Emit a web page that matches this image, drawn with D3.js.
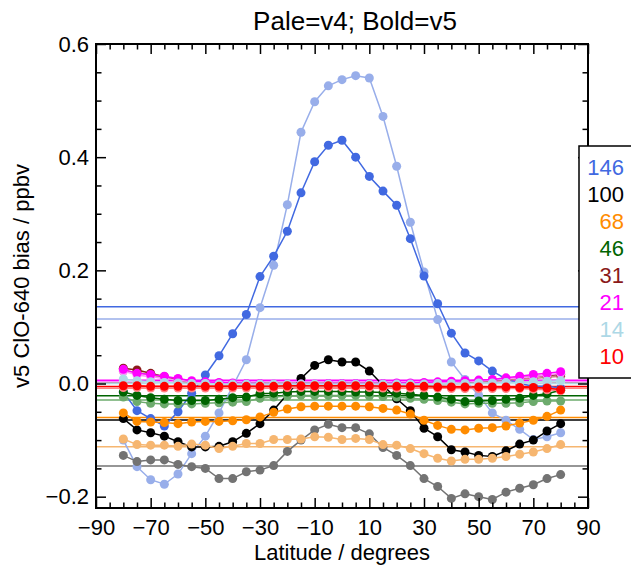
<!DOCTYPE html>
<html>
<head>
<meta charset="utf-8">
<script src="https://cdn.jsdelivr.net/npm/d3@7/dist/d3.min.js"></script>
<style>
  html, body { margin: 0; padding: 0; background: #fff; }
  svg { display: block; font-family: "Liberation Sans", Arial, Helvetica, sans-serif; }
</style>
</head>
<body>
<svg id="chart" width="631" height="569"></svg>
<script>
// Latitude bins (degrees)
const latitudes = [-80, -75, -70, -65, -60, -55, -50, -45, -40, -35, -30, -25, -20, -15, -10, -5, 0,
                   5, 10, 15, 20, 25, 30, 35, 40, 45, 50, 55, 60, 65, 70, 75, 80];

// Pressure levels (hPa) shown in the legend
const levels = ["146", "100", "68", "46", "31", "21", "14", "10"];

// Colours: bold = v5, pale = v4
const boldColors = ["#4169e1", "#000000", "#ff8c00", "#006400", "#8b1a1a", "#ff00ff", "#add8e6", "#ff0000"];
const paleColors = ["#98aeea", "#737373", "#f6b670", "#6dab6d", "#c68484", "#ff8cff", "#d3eaf2", "#ff8484"];

// ClO bias (ppbv), v5
const v5_146 = [-0.015, -0.048, -0.062, -0.075, -0.050, -0.017, 0.015, 0.049, 0.088, 0.122, 0.189, 0.225, 0.269, 0.337, 0.392, 0.421, 0.430,
                0.400, 0.366, 0.340, 0.315, 0.256, 0.190, 0.141, 0.089, 0.054, 0.040, 0.022, 0.008, 0.000, -0.005, -0.005, -0.008];
const v5_100 = [-0.062, -0.082, -0.087, -0.093, -0.103, -0.112, -0.112, -0.111, -0.103, -0.088, -0.071, -0.047, -0.019, 0.009, 0.032, 0.042, 0.038,
                0.038, 0.022, -0.003, -0.027, -0.048, -0.079, -0.094, -0.117, -0.121, -0.127, -0.129, -0.119, -0.107, -0.100, -0.084, -0.071];
const v5_68  = [-0.052, -0.067, -0.068, -0.069, -0.071, -0.068, -0.067, -0.067, -0.066, -0.064, -0.059, -0.051, -0.045, -0.041, -0.040, -0.040, -0.040,
                -0.040, -0.041, -0.044, -0.047, -0.054, -0.065, -0.074, -0.081, -0.082, -0.079, -0.078, -0.075, -0.070, -0.065, -0.058, -0.047];
const v5_46  = [-0.015, -0.021, -0.025, -0.028, -0.030, -0.030, -0.030, -0.028, -0.025, -0.024, -0.018, -0.017, -0.015, -0.014, -0.014, -0.014, -0.014,
                -0.015, -0.015, -0.016, -0.017, -0.019, -0.021, -0.024, -0.028, -0.032, -0.031, -0.030, -0.028, -0.026, -0.021, -0.018, -0.012];
const v5_31  = [0.027, 0.024, 0.018, 0.012, 0.007, 0.003, 0.000, -0.002, -0.003, -0.003, -0.003, -0.003, -0.003, -0.003, -0.003, -0.003, -0.003,
                -0.003, -0.003, -0.003, -0.003, -0.002, -0.002, -0.001, 0.000, 0.002, 0.004, 0.006, 0.008, 0.010, 0.012, 0.014, 0.016];
const v5_21  = [0.025, 0.018, 0.016, 0.013, 0.009, 0.005, 0.003, 0.002, 0.001, 0.000, 0.000, -0.001, -0.001, -0.001, -0.001, 0.000, 0.000,
                0.000, 0.000, 0.000, 0.001, 0.001, 0.002, 0.003, 0.004, 0.005, 0.006, 0.007, 0.010, 0.013, 0.016, 0.018, 0.021];
const v5_14  = [0.008, 0.005, 0.003, 0.002, 0.001, 0.000, 0.000, -0.001, -0.001, -0.001, -0.001, -0.001, -0.001, -0.001, -0.001, -0.001, -0.001,
                -0.001, -0.001, -0.001, -0.001, -0.001, -0.001, 0.000, 0.000, 0.000, 0.001, 0.001, 0.002, 0.002, 0.003, 0.004, 0.005];
const v5_10  = [-0.004, -0.004, -0.005, -0.005, -0.005, -0.005, -0.005, -0.005, -0.005, -0.005, -0.005, -0.005, -0.004, -0.004, -0.004, -0.004, -0.004,
                -0.004, -0.004, -0.005, -0.005, -0.005, -0.005, -0.006, -0.006, -0.006, -0.006, -0.006, -0.006, -0.007, -0.007, -0.008, -0.011];

// ClO bias (ppbv), v4
const v4_146 = [-0.100, -0.147, -0.170, -0.178, -0.160, -0.124, -0.093, -0.052, -0.005, 0.042, 0.134, 0.209, 0.316, 0.444, 0.498, 0.526, 0.537,
                0.544, 0.540, 0.472, 0.384, 0.285, 0.197, 0.113, 0.038, 0.007, -0.021, -0.052, -0.065, -0.081, -0.099, -0.094, -0.087];
const v4_100 = [-0.127, -0.138, -0.135, -0.135, -0.143, -0.147, -0.150, -0.168, -0.168, -0.156, -0.153, -0.145, -0.120, -0.100, -0.082, -0.072, -0.078,
                -0.078, -0.089, -0.113, -0.127, -0.145, -0.168, -0.182, -0.203, -0.195, -0.200, -0.205, -0.192, -0.185, -0.179, -0.168, -0.161];
const v4_68  = [-0.098, -0.108, -0.109, -0.109, -0.111, -0.107, -0.109, -0.115, -0.111, -0.106, -0.106, -0.099, -0.099, -0.098, -0.094, -0.095, -0.099,
                -0.097, -0.099, -0.108, -0.109, -0.115, -0.124, -0.132, -0.137, -0.134, -0.134, -0.132, -0.129, -0.125, -0.121, -0.115, -0.108];
const v4_46  = [-0.024, -0.032, -0.035, -0.036, -0.036, -0.036, -0.035, -0.034, -0.033, -0.032, -0.026, -0.024, -0.022, -0.021, -0.021, -0.021, -0.021,
                -0.021, -0.022, -0.023, -0.024, -0.026, -0.028, -0.030, -0.033, -0.036, -0.035, -0.035, -0.035, -0.034, -0.032, -0.031, -0.031];
const v4_31  = [0.022, 0.020, 0.015, 0.010, 0.005, 0.001, -0.002, -0.004, -0.005, -0.005, -0.005, -0.005, -0.005, -0.005, -0.005, -0.005, -0.005,
                -0.005, -0.005, -0.005, -0.005, -0.004, -0.004, -0.003, -0.002, 0.000, 0.002, 0.004, 0.006, 0.008, 0.009, 0.011, 0.013];
const v4_21  = [0.022, 0.015, 0.012, 0.009, 0.006, 0.003, 0.001, 0.000, -0.001, -0.002, -0.002, -0.002, -0.002, -0.002, -0.002, -0.002, -0.002,
                -0.002, -0.002, -0.002, -0.001, -0.001, 0.000, 0.001, 0.002, 0.003, 0.004, 0.006, 0.008, 0.010, 0.012, 0.015, 0.018];
const v4_14  = [0.006, 0.004, 0.002, 0.001, 0.000, -0.001, -0.001, -0.002, -0.002, -0.002, -0.002, -0.002, -0.002, -0.002, -0.002, -0.002, -0.002,
                -0.002, -0.002, -0.002, -0.002, -0.002, -0.002, -0.001, -0.001, -0.001, 0.000, 0.000, 0.001, 0.001, 0.002, 0.003, 0.004];
const v4_10  = [-0.007, -0.007, -0.008, -0.008, -0.008, -0.008, -0.008, -0.008, -0.008, -0.008, -0.008, -0.008, -0.007, -0.007, -0.007, -0.007, -0.007,
                -0.007, -0.007, -0.008, -0.008, -0.008, -0.008, -0.008, -0.009, -0.009, -0.009, -0.009, -0.009, -0.009, -0.010, -0.011, -0.013];

const v5Series = [v5_146, v5_100, v5_68, v5_46, v5_31, v5_21, v5_14, v5_10];
const v4Series = [v4_146, v4_100, v4_68, v4_46, v4_31, v4_21, v4_14, v4_10];

// Axis ticks
const xMajorTicks = [-90, -70, -50, -30, -10, 10, 30, 50, 70, 90];
const yMajorTicks = [-0.2, 0.0, 0.2, 0.4, 0.6];

const titleText = "Pale=v4; Bold=v5";
const xTitle = "Latitude / degrees";
const yTitle = "v5 ClO-640 bias / ppbv";

// ---- layout ----
const W = 631, H = 569;
const plot = { left: 96, right: 588, top: 44, bottom: 508 };
const FONT = 22;

const svg = d3.select("#chart");
svg.append("rect").attr("width", W).attr("height", H).attr("fill", "#fff");

const x = d3.scaleLinear().domain([-90, 90]).range([plot.left, plot.right]);
const y = d3.scaleLinear().domain([-0.22, 0.6]).range([plot.bottom, plot.top]);

const xMinor = d3.range(-90, 90.01, 5).filter(v => !xMajorTicks.includes(v));
const yMinor = d3.range(-0.2, 0.601, 0.05).map(v => +v.toFixed(2)).filter(v => !yMajorTicks.some(t => Math.abs(t - v) < 1e-9));

// Build series records (pale drawn beneath bold within each level)
const series = [];
levels.forEach((lev, i) => {
  series.push({ level: lev, version: "v4", values: v4Series[i], color: paleColors[i] });
  series.push({ level: lev, version: "v5", values: v5Series[i], color: boldColors[i] });
});

const g = svg.append("g");

// Mean of each profile as a horizontal reference line
g.selectAll("line.mean")
  .data(series)
  .join("line")
  .attr("class", "mean")
  .attr("x1", plot.left).attr("x2", plot.right)
  .attr("y1", d => y(d3.mean(d.values)))
  .attr("y2", d => y(d3.mean(d.values)))
  .attr("stroke", d => d.color)
  .attr("stroke-width", 1.5);

const line = d3.line().x((d, i) => x(latitudes[i])).y(d => y(d));

const sg = g.selectAll("g.series")
  .data(series)
  .join("g")
  .attr("class", "series");

sg.append("path")
  .attr("d", d => line(d.values))
  .attr("fill", "none")
  .attr("stroke", d => d.color)
  .attr("stroke-width", 1.5);

sg.selectAll("circle")
  .data(d => d.values.map((v, i) => ({ v, lat: latitudes[i], color: d.color })))
  .join("circle")
  .attr("cx", d => x(d.lat))
  .attr("cy", d => y(d.v))
  .attr("r", 4.5)
  .attr("fill", d => d.color);

// ---- axes (ticks point inward on all four sides) ----
const axisG = svg.append("g").attr("class", "axes");

function styleAxis(sel) {
  sel.select(".domain").remove();
  sel.selectAll(".tick line").attr("stroke", "#000").attr("stroke-width", 1.5);
  sel.selectAll("text").attr("font-size", FONT).attr("fill", "#000")
     .attr("font-family", "'Liberation Sans', Arial, sans-serif");
}

// bottom major with labels
axisG.append("g")
  .attr("transform", `translate(0,${plot.bottom})`)
  .call(d3.axisBottom(x).tickValues(xMajorTicks).tickSizeInner(-10).tickSizeOuter(0).tickPadding(11)
        .tickFormat(d3.format("d")))
  .call(styleAxis);
axisG.append("g")
  .attr("transform", `translate(0,${plot.bottom})`)
  .call(d3.axisBottom(x).tickValues(xMinor).tickSizeInner(-5.5).tickSizeOuter(0).tickFormat(""))
  .call(styleAxis);
// top mirror
axisG.append("g")
  .attr("transform", `translate(0,${plot.top})`)
  .call(d3.axisTop(x).tickValues(xMajorTicks).tickSizeInner(-10).tickSizeOuter(0).tickFormat(""))
  .call(styleAxis);
axisG.append("g")
  .attr("transform", `translate(0,${plot.top})`)
  .call(d3.axisTop(x).tickValues(xMinor).tickSizeInner(-5.5).tickSizeOuter(0).tickFormat(""))
  .call(styleAxis);
// left major with labels
axisG.append("g")
  .attr("transform", `translate(${plot.left},0)`)
  .call(d3.axisLeft(y).tickValues(yMajorTicks).tickSizeInner(-10).tickSizeOuter(0).tickPadding(7)
        .tickFormat(d3.format(".1f")))
  .call(styleAxis);
axisG.append("g")
  .attr("transform", `translate(${plot.left},0)`)
  .call(d3.axisLeft(y).tickValues(yMinor).tickSizeInner(-5.5).tickSizeOuter(0).tickFormat(""))
  .call(styleAxis);
// right mirror
axisG.append("g")
  .attr("transform", `translate(${plot.right},0)`)
  .call(d3.axisRight(y).tickValues(yMajorTicks).tickSizeInner(-10).tickSizeOuter(0).tickFormat(""))
  .call(styleAxis);
axisG.append("g")
  .attr("transform", `translate(${plot.right},0)`)
  .call(d3.axisRight(y).tickValues(yMinor).tickSizeInner(-5.5).tickSizeOuter(0).tickFormat(""))
  .call(styleAxis);

// frame
svg.append("rect")
  .attr("x", plot.left).attr("y", plot.top)
  .attr("width", plot.right - plot.left).attr("height", plot.bottom - plot.top)
  .attr("fill", "none").attr("stroke", "#000").attr("stroke-width", 2);

// titles
svg.append("text")
  .attr("x", 355).attr("y", 30)
  .attr("text-anchor", "middle").attr("font-size", 26).text(titleText);
svg.append("text")
  .attr("x", (plot.left + plot.right) / 2).attr("y", 560)
  .attr("text-anchor", "middle").attr("font-size", FONT).text(xTitle);
svg.append("text")
  .attr("transform", `translate(29,${(plot.top + plot.bottom) / 2}) rotate(-90)`)
  .attr("text-anchor", "middle").attr("font-size", FONT).text(yTitle);

// legend box with coloured level labels
const legend = svg.append("g");
legend.append("rect")
  .attr("x", 579).attr("y", 146).attr("width", 70).attr("height", 232)
  .attr("fill", "#fff").attr("stroke", "#000").attr("stroke-width", 1.5);
legend.selectAll("text")
  .data(levels)
  .join("text")
  .attr("x", 624)
  .attr("y", (d, i) => 175 + i * 27)
  .attr("text-anchor", "end")
  .attr("font-size", FONT)
  .attr("fill", (d, i) => boldColors[i])
  .text(d => d);
</script>
</body>
</html>
